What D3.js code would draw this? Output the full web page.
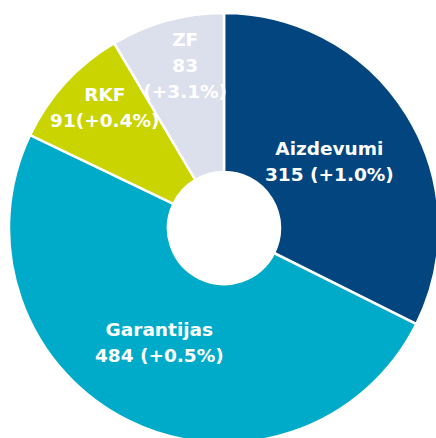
<!DOCTYPE html>
<html lang="lv">
<head>
<meta charset="utf-8">
<title>Portfelis</title>
<script type="text/javascript" src="https://d3js.org/d3.v7.min.js"></script>
<style type="text/css">
	body {
		background-color: white;
		margin: 0;
		font-family: "DejaVu Sans", sans-serif;
	}
	svg { display: block; }
</style>
</head>
<body>
<script type="text/javascript">
	// data
	var categories = ["Aizdevumi", "Garantijas", "RKF", "ZF"];
	var values = [315, 484, 91, 83];
	var changes = ["+1.0%", "+0.5%", "+0.4%", "+3.1%"];
	var colors = ["#03467f", "#00abc9", "#c9d400", "#dce0ed"];

	var w = 436, h = 438;
	var cx = 224, cy = 228;
	var outerR = 215, innerR = 56;
	// label distance from the centre and a small turn (degrees) off the slice middle
	var labelR = [125, 131, 170, 168];
	var labelTurn = [-0.8, 3.5, 3, 2];

	var svg = d3.select("body").append("svg")
		.attr("width", w)
		.attr("height", h);

	var g = svg.append("g")
		.attr("transform", "translate(" + cx + "," + cy + ")");

	var pie = d3.pie().sort(null).value(function(d) { return d; });
	var arcs = pie(values);

	var arc = d3.arc().innerRadius(innerR).outerRadius(outerR);

	g.selectAll("path")
		.data(arcs)
		.enter().append("path")
		.attr("d", arc)
		.attr("fill", function(d, i) { return colors[i]; })
		.attr("stroke", "white")
		.attr("stroke-width", 2.5);

	// label lines for each slice
	var lines = [
		[categories[0], values[0] + " (" + changes[0] + ")"],
		[categories[1], values[1] + " (" + changes[1] + ")"],
		[categories[2], values[2] + "(" + changes[2] + ")"],
		[categories[3], String(values[3]), "(" + changes[3] + ")"]
	];

	arcs.forEach(function(d, i) {
		var a = (d.startAngle + d.endAngle) / 2 + labelTurn[i] * Math.PI / 180;
		var c = [labelR[i] * Math.sin(a), -labelR[i] * Math.cos(a)];
		var n = lines[i].length;
		var t = g.append("text")
			.attr("x", c[0])
			.attr("y", c[1])
			.attr("text-anchor", "middle")
			.attr("fill", "white")
			.style("font-weight", "bold")
			.style("font-size", "18.5px");
		lines[i].forEach(function(s, k) {
			t.append("tspan")
				.attr("x", c[0])
				.attr("y", c[1] + (k - (n - 1) / 2) * 26 + 7)
				.text(s);
		});
	});
</script>
</body>
</html>
